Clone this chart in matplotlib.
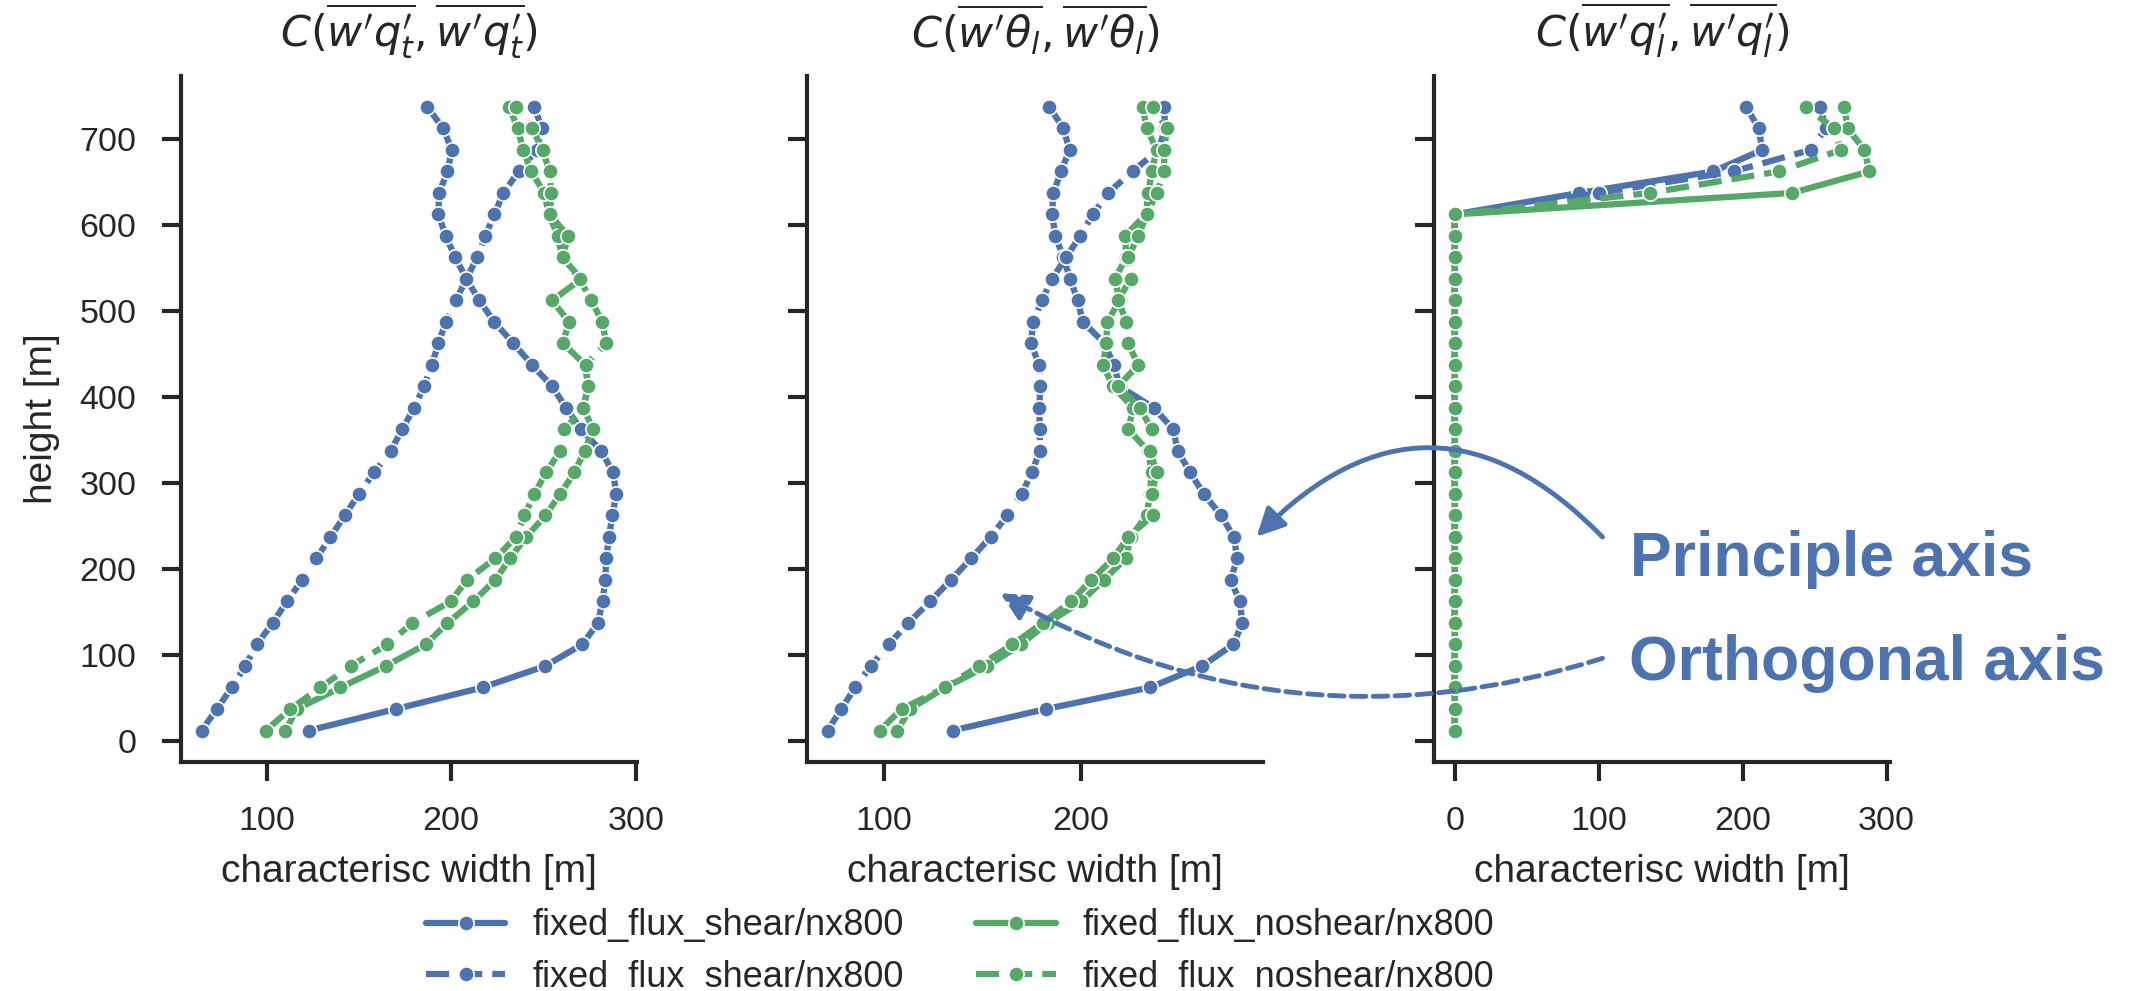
import matplotlib
matplotlib.use('Agg')
import matplotlib.pyplot as plt
import seaborn as sns
from matplotlib.ticker import MultipleLocator
from matplotlib.patches import FancyArrowPatch

sns.set_style('ticks')
plt.rcParams['font.family'] = ['Liberation Sans', 'DejaVu Sans']
plt.rcParams['mathtext.fontset'] = 'dejavusans'

blue = '#4C72B0'
green = '#55A868'
dark = '#262626'

# heights of the profile levels [m]
height = [12.5, 37.5, 62.5, 87.5, 112.5, 137.5, 162.5, 187.5, 212.5, 237.5,
          262.5, 287.5, 312.5, 337.5, 362.5, 387.5, 412.5, 437.5, 462.5, 487.5,
          512.5, 537.5, 562.5, 587.5, 612.5, 637.5, 662.5, 687.5, 712.5, 737.5]

# C(w'q_t', w'q_t')
qt_shear_princ = [123, 170, 217, 251, 271, 279.5, 282, 283.5, 284, 285.5,
                  287.3, 289.5, 287.7, 281.3, 270.5, 262.3, 254.7, 243.9, 233.7, 223.4,
                  215.2, 208.3, 202.2, 197.1, 193.1, 193.5, 198, 200.4, 195.7, 187.1]
qt_shear_orth = [64.9, 73, 81.2, 88.4, 94.7, 103.3, 111, 119.2, 127, 134.6,
                 142.4, 150, 158.2, 167.2, 173.5, 179.9, 185.3, 189.5, 193.1, 197.1,
                 202.5, 208.3, 214, 218.5, 223.4, 228.3, 236.6, 246.4, 249.1, 245.1]
qt_noshear_princ = [110.2, 116.5, 140, 164.5, 186.2, 198, 212, 223.9, 231.9, 240.6,
                    251.1, 259.1, 266.8, 272.3, 276.8, 271.7, 274.1, 272.8, 260.5, 263.8,
                    254.7, 270.5, 260.1, 257.8, 252.9, 250.5, 243.3, 239.1, 236, 231.5]
qt_noshear_orth = [99.6, 112.9, 129.2, 145.5, 165.4, 179, 199.8, 208.5, 223.9, 235.1,
                   239.7, 245.1, 251.4, 259.1, 261.4, 271.7, 274.1, 272.8, 284, 281.9,
                   275.9, 269.6, 260.5, 263.2, 253.6, 254.2, 253.3, 249.6, 243.9, 235.1]

# C(w'theta_l, w'theta_l)
th_shear_princ = [134.9, 182.4, 235.3, 261.9, 277.8, 282.4, 281.2, 276.4, 279.8, 278.1,
                  271.6, 262.7, 255.9, 249.4, 247.3, 237.4, 220, 216.9, 212.3, 201.2,
                  198.6, 194.7, 191.3, 187.2, 185.5, 186.2, 190.1, 194.4, 191.3, 184.1]
th_shear_orth = [71.3, 78.1, 85.3, 93.2, 102.4, 112.3, 123.4, 134, 144.3, 154.2,
                 162.7, 170.1, 175.2, 179.3, 179.3, 179, 179.5, 179, 174.7, 175.9,
                 180.3, 185.5, 192.7, 199.8, 206.3, 214, 226.5, 239.7, 243.1, 242.6]
th_noshear_princ = [106.7, 113.2, 131.1, 152.5, 169.6, 183.2, 200.4, 211.8, 223.1, 225.5,
                    233.7, 235.4, 236.2, 234.5, 224.3, 226.8, 216.6, 211.4, 213.2, 213.5,
                    220, 217.4, 223.4, 222.6, 233.3, 234.5, 236.2, 238.8, 233.7, 231.6]
th_noshear_orth = [97.8, 108.9, 131.1, 148.2, 165.3, 180.7, 195.2, 205.5, 216.6, 224.3,
                   236.8, 236.2, 238.8, 235.4, 236.2, 230.3, 219.1, 229.4, 224.3, 223.4,
                   219.1, 225.5, 224.3, 229.4, 233.7, 238.8, 242.6, 242.6, 244, 236.8]

# C(w'q_l', w'q_l')
ql_shear_princ = [0, 0, 0, 0, 0, 0, 0, 0, 0, 0,
                  0, 0, 0, 0, 0, 0, 0, 0, 0, 0,
                  0, 0, 0, 0, 0, 86.5, 179.7, 213.6, 211.2, 202.6]
ql_shear_orth = [0, 0, 0, 0, 0, 0, 0, 0, 0, 0,
                 0, 0, 0, 0, 0, 0, 0, 0, 0, 0,
                 0, 0, 0, 0, 0, 100.5, 193.7, 247.3, 257.8, 253.8]
ql_noshear_princ = [0, 0, 0, 0, 0, 0, 0, 0, 0, 0,
                    0, 0, 0, 0, 0, 0, 0, 0, 0, 0,
                    0, 0, 0, 0, 0, 234.5, 288.1, 284.6, 273, 270.6]
ql_noshear_orth = [0, 0, 0, 0, 0, 0, 0, 0, 0, 0,
                   0, 0, 0, 0, 0, 0, 0, 0, 0, 0,
                   0, 0, 0, 0, 0, 135.5, 225.2, 268.3, 263.6, 243.8]

titles = [r"$C(\overline{w^\prime q_t^\prime}, \overline{w^\prime q_t^\prime})$",
          r"$C(\overline{w^\prime \theta_l}, \overline{w^\prime \theta_l})$",
          r"$C(\overline{w^\prime q_l^\prime}, \overline{w^\prime q_l^\prime})$"]
panels = [(qt_shear_princ, qt_shear_orth, qt_noshear_princ, qt_noshear_orth),
          (th_shear_princ, th_shear_orth, th_noshear_princ, th_noshear_orth),
          (ql_shear_princ, ql_shear_orth, ql_noshear_princ, ql_noshear_orth)]

fig = plt.figure(figsize=(21.35, 9.91), dpi=100)
lefts = [0.0848, 0.378, 0.6717]
axes = []
for l in lefts:
    ax = fig.add_axes([l, 0.2314, 0.2136, 0.6922], sharey=axes[0] if axes else None)
    axes.append(ax)

style = dict(lw=4.5, marker='o', ms=11, mec='white', mew=1.2)
for i, ax in enumerate(axes):
    sp, so, nsp, nso = panels[i]
    ax.plot(sp, height, '-', color=blue, label='fixed_flux_shear/nx800', **style)
    ax.plot(so, height, '--', color=blue, label='fixed_flux_shear/nx800', **style)
    ax.plot(nsp, height, '-', color=green, label='fixed_flux_noshear/nx800', **style)
    ax.plot(nso, height, '--', color=green, label='fixed_flux_noshear/nx800', **style)
    ax.set_title(titles[i], fontsize=31, pad=20, color=dark)
    ax.set_xlabel('characterisc width [m]', fontsize=28, labelpad=12, color=dark)
    ax.xaxis.set_major_locator(MultipleLocator(100))
    ax.yaxis.set_major_locator(MultipleLocator(100))
    ax.tick_params(direction='out', length=14, width=3, labelsize=24.5, pad=18,
                   colors=dark)
    for s in ['top', 'right']:
        ax.spines[s].set_visible(False)
    for s in ['left', 'bottom']:
        ax.spines[s].set_linewidth(3)
        ax.spines[s].set_color(dark)
    if i > 0:
        ax.tick_params(labelleft=False)

axes[0].set_ylabel('height [m]', fontsize=28, labelpad=14, color=dark)

handles, labels = axes[0].get_legend_handles_labels()
fig.legend(handles, labels, loc='upper left', bbox_to_anchor=(0.1995, 0.0835),
           ncol=2, frameon=False, fontsize=26, handlelength=2.2,
           handletextpad=0.75, columnspacing=2.0, labelspacing=0.45,
           borderpad=0, borderaxespad=0)

# annotations, positions in figure pixels
W, H = 2135.0, 991.0
fig.text(1630 / W, 1 - 576 / H, 'Principle axis', fontsize=45,
         fontweight='bold', color=blue, va='baseline', ha='left')
fig.text(1629 / W, 1 - 680 / H, 'Orthogonal axis', fontsize=45,
         fontweight='bold', color=blue, va='baseline', ha='left')
arr1 = FancyArrowPatch((1602.5 / W, 1 - 537 / H), (1256.6 / W, 1 - 536.7 / H),
                       transform=fig.transFigure, arrowstyle='-|>',
                       connectionstyle='arc3,rad=0.51', lw=3.5, color=blue,
                       shrinkA=0, shrinkB=0, mutation_scale=42)
arr2 = FancyArrowPatch((1602.5 / W, 1 - 658.3 / H), (1000.4 / W, 1 - 593.3 / H),
                       transform=fig.transFigure, arrowstyle='-|>',
                       connectionstyle='arc3,rad=-0.22', lw=3.5, color=blue,
                       shrinkA=0, shrinkB=0, mutation_scale=42,
                       linestyle=(0, (3, 1.5)))
fig.add_artist(arr1)
fig.add_artist(arr2)

fig.savefig('out.png', dpi=100)
